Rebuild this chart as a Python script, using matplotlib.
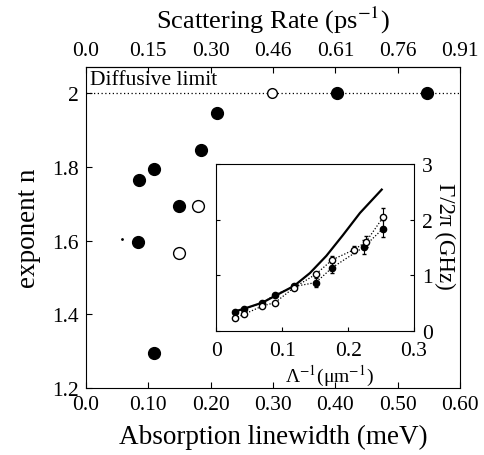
import matplotlib
matplotlib.use("Agg")
import matplotlib.pyplot as plt

plt.rcParams['font.family'] = ['Liberation Serif', 'DejaVu Serif']
plt.rcParams['mathtext.fontset'] = 'stix'

# Main panel data
filled_x = [0.0835, 0.085, 0.109, 0.109, 0.149, 0.185, 0.210, 0.403, 0.547]
filled_n = [1.596, 1.765, 1.795, 1.295, 1.694, 1.846, 1.947, 2.0, 2.0]
open_x = [0.149, 0.180]
open_n = [1.566, 1.694]
open_small_x = [0.299]
open_small_n = [2.0]
dot_x = [0.058]
dot_n = [1.605]
diffusive_n = 2.0

bottom_ticks = [0.0, 0.1, 0.2, 0.3, 0.4, 0.5, 0.6]
bottom_labels = ['0.0', '0.10', '0.20', '0.30', '0.40', '0.50', '0.60']
top_labels = ['0.0', '0.15', '0.30', '0.46', '0.61', '0.76', '0.91']
left_ticks = [1.2, 1.4, 1.6, 1.8, 2.0]
left_labels = ['1.2', '1.4', '1.6', '1.8', '2']

# Inset data
in_x = [0.028, 0.042, 0.070, 0.089, 0.118, 0.151, 0.176, 0.224, 0.253]
in_filled = [0.35, 0.40, 0.51, 0.65, 0.80, 0.87, 1.14, 1.51, 1.84]
in_filled_err = [0.0, 0.0, 0.0, 0.0, 0.0, 0.08, 0.10, 0.12, 0.15]
in_open_x = [0.028, 0.042, 0.070, 0.089, 0.118, 0.151, 0.176, 0.209, 0.227, 0.253]
in_open = [0.23, 0.30, 0.45, 0.51, 0.78, 1.02, 1.28, 1.46, 1.60, 2.04]
in_open_err = [0.0, 0.0, 0.0, 0.0, 0.0, 0.0, 0.06, 0.06, 0.10, 0.17]
theory_x = [0.028, 0.042, 0.070, 0.089, 0.118, 0.142, 0.167, 0.192, 0.218, 0.251]
theory_y = [0.35, 0.40, 0.51, 0.63, 0.81, 1.04, 1.35, 1.72, 2.12, 2.54]

fig = plt.figure(figsize=(4.85, 4.56), dpi=100)
ax = fig.add_axes([0.1773, 0.1469, 0.7711, 0.704])

ax.axhline(diffusive_n, color='black', linestyle=(0, (1, 2)), linewidth=0.9, zorder=1)
ax.plot(filled_x, filled_n, 'o', color='black', markersize=8.5, zorder=3)
ax.plot(open_x, open_n, 'o', markerfacecolor='white', markeredgecolor='black',
        markersize=8.5, markeredgewidth=1.0, zorder=3)
ax.plot(open_small_x, open_small_n, 'o', markerfacecolor='white', markeredgecolor='black',
        markersize=7, markeredgewidth=1.0, zorder=3)
ax.plot(dot_x, dot_n, '.', color='black', markersize=2, zorder=3)
ax.text(0.006, 2.012, 'Diffusive limit', fontsize=15.5, ha='left', va='bottom')

ax.set_xlim(0, 0.6)
ax.set_ylim(1.2, 2.071)
ax.set_xticks(bottom_ticks)
ax.set_xticklabels(bottom_labels)
ax.set_yticks(left_ticks)
ax.set_yticklabels(left_labels)
ax.tick_params(direction='in', labelsize=15.5, length=4, top=False, pad=5)
ax.set_xlabel('Absorption linewidth (meV)', fontsize=19.5, labelpad=7)
ax.set_ylabel('exponent n', fontsize=19.5, labelpad=8)

top = ax.secondary_xaxis('top')
top.set_xticks(bottom_ticks)
top.set_xticklabels(top_labels)
top.tick_params(direction='in', labelsize=15.5, length=4, pad=5)
top.set_xlabel('Scattering Rate (ps$^{-1}$)', fontsize=19, labelpad=10)

# Inset
ins = fig.add_axes([0.446, 0.2719, 0.4076, 0.3663])
ins.plot(theory_x, theory_y, '-', color='black', linewidth=1.6, zorder=2)
ins.errorbar(in_x, in_filled, yerr=in_filled_err, fmt='o', color='black',
             markersize=4.5, linestyle=(0, (1, 1.5)), linewidth=0.9,
             elinewidth=0.8, capsize=1.5, zorder=3)
ins.errorbar(in_open_x, in_open, yerr=in_open_err, fmt='o', color='black',
             markerfacecolor='white', markeredgecolor='black', markersize=4.5,
             linestyle=(0, (1, 1.5)), linewidth=0.9, elinewidth=0.8, capsize=1.5, zorder=3)
ins.set_xlim(0, 0.3)
ins.set_ylim(0, 3)
ins.set_xticks([0, 0.1, 0.2, 0.3])
ins.set_xticklabels(['0', '0.1', '0.2', '0.3'])
ins.set_yticks([0, 1, 2, 3])
ins.set_yticklabels(['0', '1', '2', '3'])
ins.tick_params(direction='in', labelsize=15.5, length=3, left=True, right=True,
                labelleft=False, labelright=True)
ins.tick_params(axis='x', pad=7)
ins.tick_params(axis='y', pad=6)
ins.yaxis.set_label_position('right')
ins.set_ylabel('Γ/2π (GHz)', fontsize=16.5, rotation=270, va='center')
ins.yaxis.set_label_coords(1.155, 0.57)
ins.set_xlabel('Λ$^{-1}$(μm$^{-1}$)', fontsize=14)
ins.xaxis.set_label_coords(0.57, -0.19)

fig.savefig('out.png', dpi=100, facecolor='white')
